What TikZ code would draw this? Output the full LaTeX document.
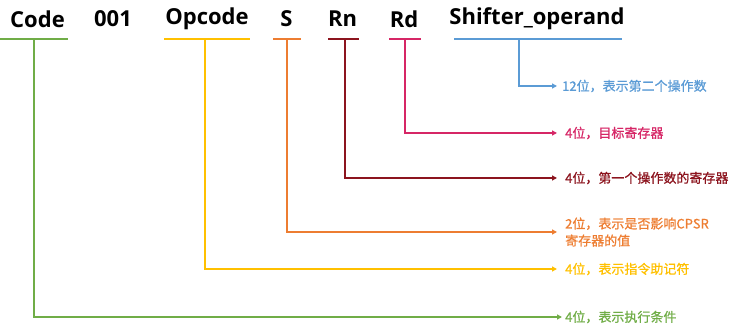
\documentclass[tikz,border=0pt]{standalone}
\usepackage{fontspec}
\setmainfont{Open Sans}
\newfontfamily\cjk[FakeBold=0.8]{Noto Sans CJK SC}
\usetikzlibrary{arrows.meta}
\definecolor{cgreen}{RGB}{112,173,71}
\definecolor{cyellow}{RGB}{255,192,0}
\definecolor{corange}{RGB}{237,125,49}
\definecolor{cdred}{RGB}{140,20,30}
\definecolor{cpink}{RGB}{214,38,102}
\definecolor{cblue}{RGB}{91,155,213}
\tikzset{
  field/.style={font=\fontsize{22}{24}\selectfont\bfseries, inner sep=0pt, anchor=center},
  uline/.style={line width=2pt},
  conn/.style={line width=2pt, -{Triangle[length=5pt,width=5pt]}},
  lab/.style={font=\cjk\fontsize{13}{17}\selectfont, anchor=west, inner sep=0pt, align=left},
}
\begin{document}
\begin{tikzpicture}[x=1pt,y=-1pt]
\useasboundingbox (0,0) rectangle (737,328);
% header fields
\node[field] (fCode) at (37.5,19) {Code};
\node[field] (f001) at (113,19) {001};
\node[field] (fOp) at (207,19) {Opcode};
\node[field] (fS) at (286.5,19) {S};
\node[field] (fRn) at (342.5,19) {Rn};
\node[field] (fRd) at (404,19) {Rd};
\node[field] (fSh) at (537,19) {Shifter\_operand};
% underlines
\draw[uline,cgreen] (0,39) -- (68,39);
\draw[uline,cyellow] (164,39) -- (250,39);
\draw[uline,corange] (273,39) -- (301,39);
\draw[uline,cdred] (328,39) -- (359,39);
\draw[uline,cpink] (389,39) -- (421,39);
\draw[uline,cblue] (454,39) -- (622,39);
\coordinate (uCode) at (34,39);
\coordinate (uOp) at (205,39);
\coordinate (uS) at (287,39);
\coordinate (uRn) at (345,39);
\coordinate (uRd) at (405,39);
\coordinate (uSh) at (519,39);
% labels
\node[lab,text=cblue] (lSh) at (562,86) {12位，表示第二个操作数};
\node[lab,text=cpink] (lRd) at (565,133) {4位，目标寄存器};
\node[lab,text=cdred] (lRn) at (565,178) {4位，第一个操作数的寄存器};
\node[lab,text=corange] (lS) at (565,232) {2位，表示是否影响CPSR\\寄存器的值};
\node[lab,text=cyellow] (lOp) at (565,269) {4位，表示指令助记符};
\node[lab,text=cgreen] (lCode) at (565,317) {4位，表示执行条件};
% connectors
\draw[conn,cblue] (uSh) |- ([xshift=-5pt]lSh.west);
\draw[conn,cpink] (uRd) |- ([xshift=-8pt]lRd.west);
\draw[conn,cdred] (uRn) |- ([xshift=-8pt]lRn.west);
\draw[conn,corange] (uS) |- ([xshift=-8pt]lS.west);
\draw[conn,cyellow] (uOp) |- ([xshift=-8pt]lOp.west);
\draw[conn,cgreen] (uCode) |- ([xshift=-3pt]lCode.west);
\end{tikzpicture}
\end{document}
